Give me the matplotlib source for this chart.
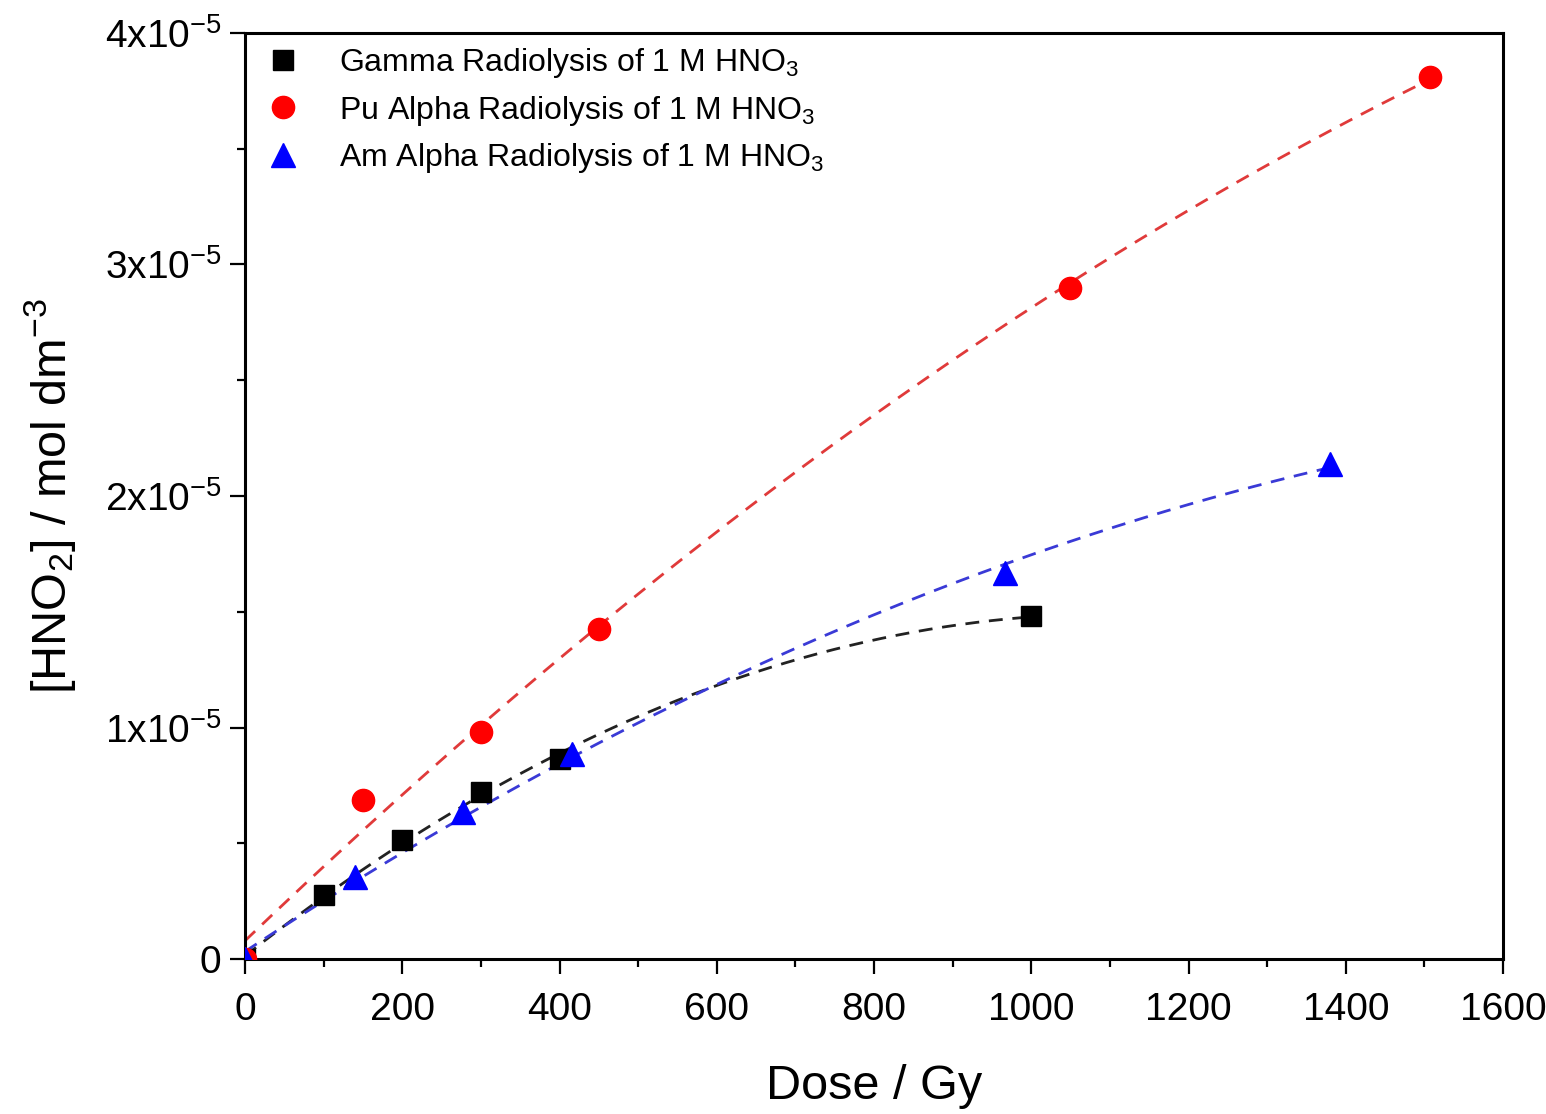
import numpy as np
import matplotlib
matplotlib.use("Agg")
import matplotlib.pyplot as plt
from matplotlib.ticker import MultipleLocator, FuncFormatter

plt.rcParams['font.family'] = ['Liberation Sans', 'DejaVu Sans']
plt.rcParams['mathtext.default'] = 'regular'

# Data
gamma_dose = [0, 100, 200, 300, 400, 1000]
gamma_hno2 = [0, 0.276e-5, 0.514e-5, 0.72e-5, 0.864e-5, 1.48e-5]

pu_dose = [0, 150, 300, 450, 1049, 1507]
pu_hno2 = [0, 0.687e-5, 0.98e-5, 1.425e-5, 2.90e-5, 3.81e-5]

am_dose = [0, 140, 277, 416, 967, 1380]
am_hno2 = [0, 0.354e-5, 0.635e-5, 0.886e-5, 1.667e-5, 2.14e-5]

labels = ["Gamma Radiolysis of 1 M HNO$_3$",
          "Pu Alpha Radiolysis of 1 M HNO$_3$",
          "Am Alpha Radiolysis of 1 M HNO$_3$"]

fig = plt.figure(figsize=(15.46, 11.14), dpi=100)
ax = fig.add_axes([0.1585, 0.1391, 0.9722 - 0.1585, 0.9704 - 0.1391])

series = [
    (gamma_dose, gamma_hno2, 's', 'black', '#222222', 14),
    (pu_dose, pu_hno2, 'o', 'red', '#e03a3a', 16),
    (am_dose, am_hno2, '^', 'blue', '#3a3ad6', 17),
]

handles = []
for (xd, yd, mk, mc, lc, ms), lab in zip(series, labels):
    xd = np.asarray(xd, float)
    yd = np.asarray(yd, float)
    coef = np.polyfit(xd, yd, 2)
    xf = np.linspace(0, xd.max(), 200)
    ax.plot(xf, np.polyval(coef, xf), ls=(0, (5, 3.5)), color=lc, lw=2, zorder=2)
    h, = ax.plot(xd, yd, ls='none', marker=mk, color=mc, ms=ms, mec=mc, zorder=3, label=lab)
    handles.append(h)

ax.set_xlim(0, 1600)
ax.set_ylim(0, 4e-5)
ax.xaxis.set_major_locator(MultipleLocator(200))
ax.xaxis.set_minor_locator(MultipleLocator(100))
ax.yaxis.set_major_locator(MultipleLocator(1e-5))
ax.yaxis.set_minor_locator(MultipleLocator(0.5e-5))


def yfmt(v, pos):
    n = int(round(v / 1e-5))
    if n == 0:
        return '0'
    return r'%dx10$^{-5}$' % n


ax.yaxis.set_major_formatter(FuncFormatter(yfmt))

ax.tick_params(which='major', direction='out', length=11, width=1.6, labelsize=28)
ax.tick_params(axis='x', which='major', pad=13)
ax.tick_params(axis='y', which='major', pad=6)
ax.tick_params(which='minor', direction='out', length=6, width=1.6)
ax.tick_params(top=False, right=False, which='both')
for s in ax.spines.values():
    s.set_linewidth(2.2)

ax.set_xlabel('Dose / Gy', fontsize=35, labelpad=26)
ax.set_ylabel('[HNO$_2$] / mol dm$^{-3}$', fontsize=35, labelpad=19)

ax.legend(handles=handles, loc='upper left', frameon=False, fontsize=23,
          labelspacing=0.42, handletextpad=1.15, borderaxespad=0.2,
          handlelength=1.2, bbox_to_anchor=(0.0, 1.0065))

fig.savefig('out.png', dpi=100)
